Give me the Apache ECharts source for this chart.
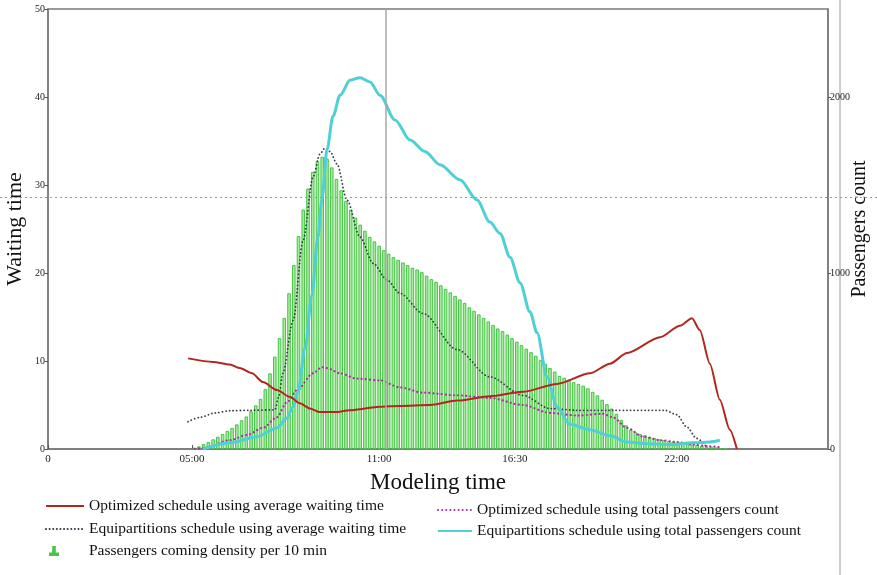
<!DOCTYPE html>
<html>
<head>
<meta charset="utf-8">
<script src="https://cdn.jsdelivr.net/npm/echarts@6/dist/echarts.min.js"></script>
<style>
  html, body { margin: 0; padding: 0; background: #fff; }
  #chart { width: 877px; height: 575px; }
</style>
</head>
<body>
<div id="chart"></div>
<script>
// x axis in modeling hours, labels sit where the original figure put them
var xTickPos = [0, 5.06, 11.63, 16.40, 22.09];
var xTickLabels = ['0', '05:00', '11:00', '16:30', '22:00'];

// passengers coming per 10 min, first bar starts at firstBarHour
var firstBarHour = 5.05;
var passengersPer10Min = [8, 15, 28, 40, 55, 70, 85, 103, 120, 140,
  163, 185, 215, 248, 285, 340, 430, 525, 630, 745,
  885, 1045, 1210, 1360, 1480, 1575, 1635, 1660, 1650, 1600,
  1535, 1470, 1410, 1360, 1315, 1275, 1240, 1205, 1180, 1155,
  1130, 1110, 1090, 1075, 1060, 1045, 1030, 1020, 1005, 985,
  965, 950, 930, 910, 890, 870, 850, 830, 805, 785,
  765, 745, 725, 705, 685, 670, 650, 630, 610, 590,
  570, 550, 530, 505, 485, 460, 440, 415, 405, 395,
  380, 370, 360, 345, 325, 305, 280, 255, 230, 200,
  165, 135, 110, 95, 85, 78, 70, 63, 55, 50,
  45, 43, 40, 35, 30, 25, 23, 19, 15, 13,
  9, 6, 3];

// Optimized schedule using average waiting time
var redHours = [4.92, 5.80, 6.39, 6.74, 7.17, 7.55, 8.04, 8.50, 8.85, 9.20,
  9.55, 10.08, 10.61, 11.66, 12.36, 13.42, 14.37, 15.52, 16.68, 17.88,
  19.04, 19.74, 20.34, 21.50, 22.20, 22.62, 22.90, 23.25, 23.60, 23.95, 24.20];
var redWait = [10.3, 9.9, 9.6, 9.2, 8.6, 7.6, 6.7, 5.9, 5.2, 4.6,
  4.2, 4.2, 4.4, 4.8, 4.9, 5.0, 5.5, 6.0, 6.5, 7.4,
  8.6, 9.7, 10.9, 12.7, 14.0, 14.85, 13.5, 9.7, 5.6, 2.2, 0];

// Equipartitions schedule using average waiting time
var blackHours = [4.92, 5.34, 5.87, 6.39, 7.10, 7.97, 8.11, 8.25, 8.61, 8.96,
  9.31, 9.55, 9.73, 9.91, 10.15, 10.50, 10.96, 11.42, 11.91, 12.36,
  13.17, 14.37, 15.52, 16.68, 17.63, 18.58, 19.74, 21.67, 22.09, 22.44,
  22.79, 23.14];
var blackWait = [3.1, 3.6, 4.1, 4.35, 4.4, 4.45, 6.0, 8.6, 14.6, 23.7,
  30.9, 33.5, 34.2, 33.8, 32.4, 28.3, 24.1, 21.1, 19.2, 17.7,
  15.4, 11.3, 8.2, 6.1, 4.6, 4.4, 4.4, 4.4, 3.9, 2.5,
  1.2, 0.2];

// Optimized schedule using total passengers count
var magHours = [5.16, 5.51, 6.39, 6.99, 7.55, 8.04, 8.39, 8.75, 9.31, 9.62,
  9.80, 10.26, 10.85, 11.66, 12.36, 13.17, 14.37, 15.52, 16.68, 17.63,
  18.58, 19.49, 19.84, 20.34, 20.90, 21.50, 22.09, 22.66, 23.25, 23.60];
var magWait = [0, 0.15, 1.0, 1.6, 2.4, 3.6, 5.3, 6.7, 8.6, 9.3,
  9.2, 8.6, 8.0, 7.8, 7.0, 6.4, 6.1, 5.8, 5.0, 4.1,
  3.8, 4.0, 3.6, 2.4, 1.4, 1.0, 0.8, 0.5, 0.3, 0.2];

// Equipartitions schedule using total passengers count
var cyanHours = [5.44, 6.39, 7.34, 8.04, 8.39, 8.61, 8.78, 9.03, 9.27, 9.48,
  9.62, 9.80, 10.01, 10.26, 10.61, 10.96, 11.31, 11.66, 12.19, 12.72,
  13.24, 13.77, 14.47, 15.07, 15.52, 15.88, 16.23, 16.58, 16.93, 17.18,
  17.53, 17.88, 18.33, 19.04, 19.74, 20.34, 21.04, 21.85, 22.66, 23.25, 23.60];
var cyanWait = [0, 0.7, 1.4, 2.4, 3.5, 4.8, 6.5, 11.5, 17.5, 24.0,
  28.3, 34.0, 37.8, 40.2, 41.9, 42.2, 41.7, 40.2, 37.4, 35.1,
  33.8, 32.3, 30.6, 28.3, 25.8, 24.5, 21.8, 18.9, 15.6, 13.2,
  8.2, 4.8, 2.8, 2.2, 1.5, 0.8, 0.6, 0.5, 0.7, 0.8, 1.0];

var cursorHour = 11.85;
var cursorWait = 28.6;

function pairs(xs, ys) {
  return xs.map(function (x, i) { return [x, ys[i]]; });
}

var barData = passengersPer10Min.map(function (v, i) {
  return [firstBarHour + (i + 0.5) / 6, v];
});

var serif = 'Liberation Serif';
var names = [
  'Optimized schedule using average waiting time',
  'Equipartitions schedule using average waiting time',
  'Passengers coming density per 10 min',
  'Optimized schedule using total passengers count',
  'Equipartitions schedule using total passengers count'
];

var myChart = echarts.init(document.getElementById('chart'));
myChart.setOption({
  animation: false,
  grid: {
    left: 48, top: 9, width: 780, height: 440,
    outerBoundsMode: 'none', containLabel: false,
    show: true, borderColor: '#7a7a7a', borderWidth: 1.5
  },
  legend: [
    {
      left: 40, top: 493, orient: 'vertical', itemGap: 7,
      itemWidth: 38, itemHeight: 10,
      itemStyle: { opacity: 0 },
      textStyle: { fontFamily: serif, fontSize: 15.5, color: '#111' },
      data: [names[0], names[1]]
    },
    {
      left: 44, top: 538, orient: 'vertical',
      itemWidth: 8, itemHeight: 10,
      textStyle: { fontFamily: serif, fontSize: 15.5, color: '#111', padding: [0, 0, 0, 26] },
      data: [{ name: names[2], icon: 'path://M4,0 L6,0 L6,8 L10,8 L10,10 L0,10 L0,8 L4,8 Z' }]
    },
    {
      left: 432, top: 497, orient: 'vertical', itemGap: 5,
      itemWidth: 34, itemHeight: 10,
      itemStyle: { opacity: 0 },
      textStyle: { fontFamily: serif, fontSize: 15.5, color: '#111' },
      data: [names[3], names[4]]
    }
  ],
  xAxis: {
    type: 'value', min: 0, max: 27.4,
    name: 'Modeling time', nameLocation: 'middle', nameGap: 22, nameMoveOverlap: false,
    nameTextStyle: { fontFamily: serif, fontSize: 23, color: '#111' },
    axisLine: { show: true, lineStyle: { color: '#7a7a7a', width: 1.5 } },
    axisTick: { show: true, inside: true, length: 4, customValues: xTickPos, lineStyle: { color: '#555' } },
    axisLabel: {
      customValues: xTickPos, margin: 5,
      fontFamily: serif, fontSize: 11, color: '#222',
      formatter: function (v) {
        var k = xTickPos.indexOf(v);
        return k >= 0 ? xTickLabels[k] : '';
      }
    },
    splitLine: { show: false }
  },
  yAxis: [
    {
      type: 'value', min: 0, max: 50, interval: 10,
      name: 'Waiting time', nameLocation: 'middle', nameGap: 22, nameMoveOverlap: false,
      nameTextStyle: { fontFamily: serif, fontSize: 22, color: '#111' },
      axisLine: { show: true, lineStyle: { color: '#7a7a7a', width: 1.5 } },
      axisTick: { show: true, length: 3, lineStyle: { color: '#555' } },
      axisLabel: { fontFamily: serif, fontSize: 10, color: '#222', margin: 3 },
      splitLine: { show: false }
    },
    {
      type: 'value', min: 0, max: 2500, interval: 1000,
      name: 'Passengers count', nameLocation: 'middle', nameGap: 22, nameMoveOverlap: false,
      nameTextStyle: { fontFamily: serif, fontSize: 20, color: '#111' },
      axisLine: { show: true, lineStyle: { color: '#7a7a7a', width: 1.5 } },
      axisTick: { show: true, length: 3, lineStyle: { color: '#555' } },
      axisLabel: {
        fontFamily: serif, fontSize: 10, color: '#222', margin: 2, showMaxLabel: false,
        formatter: function (v) { return String(v); }
      },
      splitLine: { show: false }
    }
  ],
  graphic: [
    {
      type: 'line', z: 0, silent: true,
      shape: { x1: 840, y1: 0, x2: 840, y2: 575 },
      style: { stroke: '#9a9a9a', lineWidth: 1 }
    }
  ],
  series: [
    {
      name: names[2], type: 'bar', yAxisIndex: 1,
      barWidth: 3.6, data: barData,
      itemStyle: { color: '#a9e89f', borderColor: '#46c646', borderWidth: 1 },
      markLine: {
        silent: true, symbol: 'none', animation: false,
        label: { show: false },
        lineStyle: { color: '#a8a8a8', width: 1.5, type: 'solid' },
        data: [{ xAxis: cursorHour }]
      }
    },
    {
      name: 'cursor', type: 'line', yAxisIndex: 0, data: [],
      markLine: {
        silent: true, symbol: 'none', animation: false,
        label: { show: false },
        lineStyle: { color: '#999', width: 1, type: [2, 3] },
        data: [[{ x: 0, yAxis: cursorWait }, { x: 877, yAxis: cursorWait }]]
      }
    },
    {
      name: names[1], type: 'line', yAxisIndex: 0,
      data: pairs(blackHours, blackWait),
      symbol: 'none', smooth: 0.3, smoothMonotone: 'x',
      lineStyle: { color: '#3a3a4a', width: 1.8, type: [0.1, 3.5], cap: 'round' },
      itemStyle: { color: '#3a3a4a' }
    },
    {
      name: names[3], type: 'line', yAxisIndex: 0,
      data: pairs(magHours, magWait),
      symbol: 'none', smooth: 0.3, smoothMonotone: 'x',
      lineStyle: { color: '#a8329b', width: 2.2, type: [0.1, 4], cap: 'round' },
      itemStyle: { color: '#a8329b' }
    },
    {
      name: names[4], type: 'line', yAxisIndex: 0,
      data: pairs(cyanHours, cyanWait),
      symbol: 'none', smooth: 0.3, smoothMonotone: 'x',
      lineStyle: { color: '#4fd0d4', width: 3 },
      itemStyle: { color: '#4fd0d4' }
    },
    {
      name: names[0], type: 'line', yAxisIndex: 0,
      data: pairs(redHours, redWait),
      symbol: 'none', smooth: 0.25, smoothMonotone: 'x',
      lineStyle: { color: '#b3261e', width: 2 },
      itemStyle: { color: '#b3261e' }
    }
  ]
});
</script>
</body>
</html>
